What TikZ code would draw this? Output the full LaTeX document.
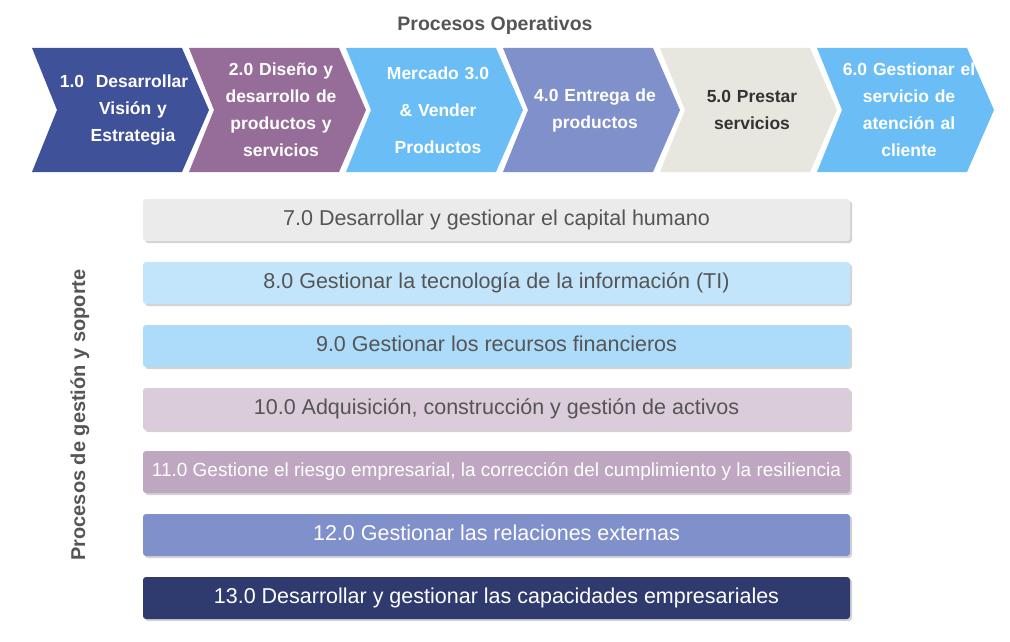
\documentclass[tikz,border=0pt]{standalone}
\usepackage{fontspec}
\setmainfont{Liberation Sans}
\usetikzlibrary{shadows}
\definecolor{cA}{HTML}{3F5198}
\definecolor{cB}{HTML}{966C98}
\definecolor{cC}{HTML}{6ABEF5}
\definecolor{cD}{HTML}{8090CB}
\definecolor{cE}{HTML}{E7E7DF}
\definecolor{cF}{HTML}{2F3B6F}
\definecolor{txtgray}{HTML}{555555}
\tikzset{
  chev/.style={font=\fontsize{17.5}{27}\selectfont\bfseries, align=center, text width=140pt},
  bar/.style={rounded corners=3pt, minimum width=707pt, minimum height=42pt,
    font=\fontsize{21.5}{24}\selectfont, drop shadow={shadow xshift=2pt,shadow yshift=-2pt,opacity=.35}}
}
\begin{document}
\begin{tikzpicture}[x=1pt,y=-1pt]
  \useasboundingbox (0,0) rectangle (1010,642);
  \node[font=\fontsize{19.5}{22}\selectfont\bfseries, text=txtgray] (title) at (495,25) {Procesos Operativos};
  % chevrons
  \foreach \i/\col/\tc/\txt in {0/cA/white/{1.0\ \ Desarrollar\\ \hspace*{18pt}Visión y\\ \hspace*{18pt}Estrategia},
      1/cB/white/{2.0 Diseño y\\desarrollo de\\productos y\\servicios},
      2/cC/white/{Mercado 3.0\\[10pt]\& Vender\\[10pt]Productos},
      3/cD/white/{4.0 Entrega de\\productos},
      4/cE/black!80/{5.0 Prestar\\servicios},
      5/cC/white/{6.0 Gestionar el\\servicio de\\atención al\\cliente}} {
    \pgfmathsetmacro{\xl}{32+157*\i}
    \fill[\col] (\xl,48) -- ++(150,0) -- ++(27,62) -- ++(-27,62) -- ++(-150,0) -- ++(25,-62) -- cycle;
    \node[chev, text=\tc] (op\i) at (\xl+92,110) {\txt};
  }
  % support bars
  \foreach \n/\y/\col/\tc/\txt in {7/220/black!8/txtgray/{7.0 Desarrollar y gestionar el capital humano},
      8/283/{cC!40}/txtgray/{8.0 Gestionar la tecnología de la información (TI)},
      9/346/{cC!55}/txtgray/{9.0 Gestionar los recursos financieros},
      10/409/{cB!35}/txtgray/{10.0 Adquisición, construcción y gestión de activos},
      11/472/{cB!60}/white/{\fontsize{19}{22}\selectfont 11.0 Gestione el riesgo empresarial, la corrección del cumplimiento y la resiliencia},
      12/535/cD/white/{12.0 Gestionar las relaciones externas},
      13/598/cF/white/{13.0 Desarrollar y gestionar las capacidades empresariales}} {
    \node[bar, fill=\col, text=\tc] (sp\n) at (496.5,\y) {\raisebox{4pt}{\txt}};
  }
  \node[rotate=90, font=\fontsize{20}{22}\selectfont\bfseries, text=txtgray] (side) at (80,415) {Procesos de gestión y soporte};
\end{tikzpicture}
\end{document}
